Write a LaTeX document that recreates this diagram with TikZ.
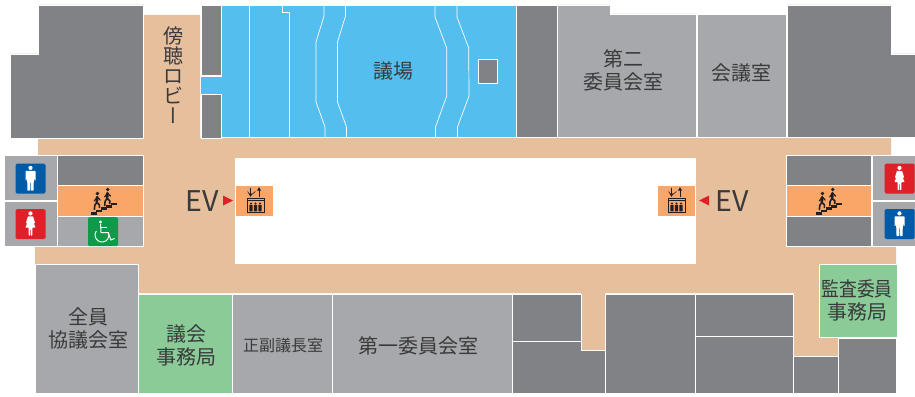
\documentclass[tikz,border=0pt]{standalone}
\usepackage{fontspec}
\setmainfont{Noto Sans CJK JP}
\newfontfamily\vertfont[RawFeature=+vert]{Noto Sans CJK JP}
\usetikzlibrary{arrows.meta}
\definecolor{beige}{HTML}{E6BF9C}
\definecolor{hall}{HTML}{54BFEE}
\definecolor{dark}{HTML}{808285}
\definecolor{light}{HTML}{A7A8AB}
\definecolor{office}{HTML}{8ACB98}
\definecolor{lift}{HTML}{FAA669}
\definecolor{wcblue}{HTML}{005BA7}
\definecolor{wcred}{HTML}{DF2029}
\definecolor{wcgreen}{HTML}{0E9A48}
\definecolor{ink}{HTML}{3A3A3C}
\definecolor{icon}{HTML}{231F20}
\tikzstyle{darkroom} = [fill=dark, draw=white, line width=0.8pt]
\tikzstyle{lightroom} = [fill=light, draw=white, line width=0.8pt]
\tikzstyle{greenroom} = [fill=office, draw=white, line width=0.8pt]
\tikzstyle{liftroom} = [fill=lift, draw=white, line width=0.8pt]
\tikzstyle{seat} = [draw=white, line width=0.7pt]
\tikzstyle{liftarrow} = [icon, line width=0.9pt, -{Latex[length=3.5pt,width=4.5pt]}]
\tikzset{
 lbl/.style
  = {font=\fontsize{20}{23}\selectfont, text=ink, inner sep=0pt, align=center},
 sign/.style
  = {rounded corners=1.5pt, draw=none},
 man/.pic = {
  \fill[white] (0,-10.6) circle (2.1);
  \fill[white, rounded corners=0.6pt] (-5,-7.6) -- (5,-7.6) -- (5,2.2) -- (3.9,2.2) -- (3.4,-4) -- (3.1,12) -- (0.4,12) -- (0.2,1.5) -- (-0.2,1.5) -- (-0.4,12) -- (-3.1,12) -- (-3.4,-4) -- (-3.9,2.2) -- (-5,2.2) -- cycle;
 },
 woman/.pic = {
  \fill[white] (0,-10.6) circle (2.1);
  \fill[white, rounded corners=0.5pt] (-2.6,-7.6) -- (2.6,-7.6) -- (4.6,-1) -- (3.4,-0.8) -- (5,3.6) -- (2,3.6) -- (1.8,11.5) -- (0.4,11.5) -- (0.2,3.6) -- (-0.2,3.6) -- (-0.4,11.5) -- (-1.8,11.5) -- (-2,3.6) -- (-5,3.6) -- (-3.4,-0.8) -- (-4.6,-1) -- cycle;
 },
 walker/.pic = {
  \fill[icon] (0,-8) circle (1.9);
  \draw[icon, line width=2.6pt, line cap=round] (-0.2,-4.4) -- (-0.6,1);
  \draw[icon, line width=1.2pt, line cap=round] (-0.2,-4.6) -- (-3,-0.6) (-0.2,-4.6) -- (2.8,-1.4);
  \draw[icon, line width=1.6pt, line cap=round] (-0.6,1) -- (-2.6,3.8) -- (-3,8) (-0.6,1) -- (2,3.2) -- (2,6);
 },
 stairicon/.pic = {
  \foreach \i in {0,...,4}
   \fill[icon] (-13+5.1*\i,11.6-2.35*\i) rectangle +(5.9,2.6);
  \pic at (-6.6,1) {walker};
  \pic at (3.7,-3) {walker};
 },
 lifticon/.pic = {
  \draw[icon, line width=0.9pt] (-7,-2) rectangle (10,12.2);
  \draw[icon, line width=0.9pt] (-7,0) -- (10,0);
  \draw[liftarrow] (-3.5,-13) -- (-3.5,-3.5);
  \draw[liftarrow] (5,-4) -- (5,-13.5);
  \draw[icon, line width=0.6pt] (-6.5,-9) -- (-3.5,-5) -- (1.5,-9);
  \foreach \i in {-3,1.5,6} {
   \fill[icon] (\i,3) circle (1.2);
   \fill[icon, rounded corners=0.4pt] (\i-1.7,4.4) rectangle (\i+1.7,10.8);
  }
 },
}
\begin{document}
\begin{tikzpicture}[x=1pt, y=-1pt]
\useasboundingbox (0,0) rectangle (915,396);
\fill[white] (0,0) rectangle (915,396);

\fill[beige] (144,15) -- (200,15) -- (200,138) -- (891,138) -- (891,156) -- (896,156) -- (896,340) -- (838,340) -- (838,356) -- (794,356) -- (794,293) -- (605,293) -- (605,350) -- (581,350) -- (581,293) -- (139,293) -- (139,264) -- (35,264) -- (35,247) -- (38,247) -- (38,138) -- (144,138) -- cycle;
\fill[white] (235,158) rectangle (696,264);

\draw[darkroom] (38,5) -- (143.5,5) -- (143.5,138) -- (10,138) -- (10,54) -- (38,54) -- cycle;
\draw[darkroom] (787,5) -- (891,5) -- (891,54) -- (916,54) -- (916,137.5) -- (787,137.5) -- cycle;
\draw[darkroom] (201,5) rectangle (221,75.5);
\draw[darkroom] (201,94.5) rectangle (221,138);
\fill[hall] (201,77) rectangle (222,93.5);
\fill[hall] (221.5,5.5) rectangle (515.5,137);
\draw[seat] (221.5,5.5) -- (515.5,5.5) (221.5,137.5) -- (516,137.5);
\draw[seat] (249,5) -- (249,137);
\draw[seat] (282.5,5) -- (282.5,12.5) -- (289.5,12.5) -- (289.5,137);
\draw[seat] (324,5) -- (324,16) -- (316,42) -- (316,102) -- (325,127) -- (325,137);
\draw[seat] (345.5,5) -- (345.5,16) -- (337.5,42) -- (337.5,102) -- (346.5,127) -- (346.5,137);
\draw[seat] (435,5) -- (435,17) -- (446.7,48) -- (446.7,96) -- (435.5,127) -- (435.5,137);
\draw[seat] (457,5) -- (457,17) -- (468.7,48) -- (469,96) -- (457.5,127) -- (457.5,137);
\draw[darkroom] (478.7,59) rectangle (497,83);

\draw[darkroom] (516.5,5) rectangle (557,137.5);
\draw[lightroom] (557.5,5) -- (610,5) -- (610,14) -- (696.5,14) -- (696.5,137.5) -- (557.5,137.5) -- cycle;
\draw[lightroom] (697.5,14) rectangle (786.5,137.5);

\draw[lightroom] (4,155.5) rectangle (57,200.5);
\draw[lightroom] (4,201.5) rectangle (57,246);
\draw[darkroom] (57.5,155.5) rectangle (143.5,185.5);
\draw[liftroom] (57.5,185.5) rectangle (143.5,216.5);
\draw[lightroom] (57.5,216.5) rectangle (143.5,246);
\draw[darkroom] (786.5,155.5) rectangle (871.5,185.5);
\draw[liftroom] (786.5,185.5) rectangle (871.5,216.5);
\draw[darkroom] (786.5,216.5) rectangle (871.5,246);
\draw[lightroom] (872.5,155.5) rectangle (916,200.5);
\draw[lightroom] (872.5,201.5) rectangle (916,246);

\fill[sign, fill=wcblue] (15.5,163.5) rectangle (45.5,193.5);
\pic at (30.5,178.5) {man};
\fill[sign, fill=wcred] (15.5,209) rectangle (45.5,239);
\pic at (30.5,224) {woman};
\fill[sign, fill=wcred] (884.5,163.5) rectangle (914.5,193.5);
\pic at (899.5,178.5) {woman};
\fill[sign, fill=wcblue] (884.5,209) rectangle (914.5,239);
\pic at (899.5,224) {man};
\fill[sign, fill=wcgreen] (88,217) rectangle (118,246);
\fill[white] (100.5,222) circle (1.6);
\draw[white, line width=1pt] (100.5,224) -- (101,232.5) -- (108,232.5) -- (111,240) -- (114.5,238.5);
\draw[white, line width=1pt] (100.8,227.5) -- (107,227.5);
\draw[white, line width=1pt] (96.3,231) arc [start angle=215, end angle=-25, radius=7];

\pic at (104,200.5) {stairicon};
\pic at (829,200.5) {stairicon};

\fill[lift] (236,186) rectangle (273,216);
\pic at (254,200.5) {lifticon};
\fill[lift] (658,186) rectangle (695,216);
\pic at (675,200.5) {lifticon};
\fill[wcred] (223,195.5) -- (233,200.5) -- (223,205.5) -- cycle;
\fill[wcred] (709,195.5) -- (699,200.5) -- (709,205.5) -- cycle;
\node (evleft) [lbl, font=\fontsize{28.5}{28}\selectfont] at (202,201) {EV};
\node (evright) [lbl, font=\fontsize{28.5}{28}\selectfont] at (732,201) {EV};

\draw[lightroom] (35,264) -- (138.5,264) -- (138.5,393.5) -- (35,393.5) -- cycle;
\draw[greenroom] (138.5,294) rectangle (232.5,393.5);
\draw[lightroom] (232.5,294) rectangle (332.5,393.5);
\draw[lightroom] (332.5,294) rectangle (512,393.5);
\draw[darkroom] (512,294) rectangle (581.5,341.5);
\draw[darkroom] (512,341.5) -- (581.5,341.5) -- (581.5,350) -- (605.5,350) -- (605.5,393.5) -- (512,393.5) -- cycle;
\draw[darkroom] (605.5,294) rectangle (695.5,393.5);
\draw[darkroom] (695.5,294) rectangle (793.5,336.5);
\draw[darkroom] (695.5,336.5) rectangle (793.5,393.5);
\draw[darkroom] (793.5,356) rectangle (838.5,393.5);
\draw[darkroom] (838.5,338) rectangle (896,393.5);
\draw[greenroom] (819,264) rectangle (897,337.5);

\node (lobby) [lbl, font=\fontsize{20}{20}\selectfont] at (173,75) {傍\\聴\\ロ\\ビ\\{\vertfont ー}};
\node (gijo) [lbl] at (393,71) {議場};
\node (second) [lbl] at (623,70.5) {第二\\委員会室};
\node (kaigi) [lbl] at (741,73) {会議室};
\node (zenin) [lbl] at (88,328) {全員\\協議会室};
\node (jimu) [lbl] at (186,345.5) {議会\\事務局};
\node (seifuku) [lbl, font=\fontsize{16}{20}\selectfont] at (283,345.5) {正副議長室};
\node (first) [lbl] at (418.5,346) {第一委員会室};
\node (kansa) [lbl] at (857,300.5) {\scalebox{0.89}[1]{監査委員}\\事務局};
\end{tikzpicture}
\end{document}
